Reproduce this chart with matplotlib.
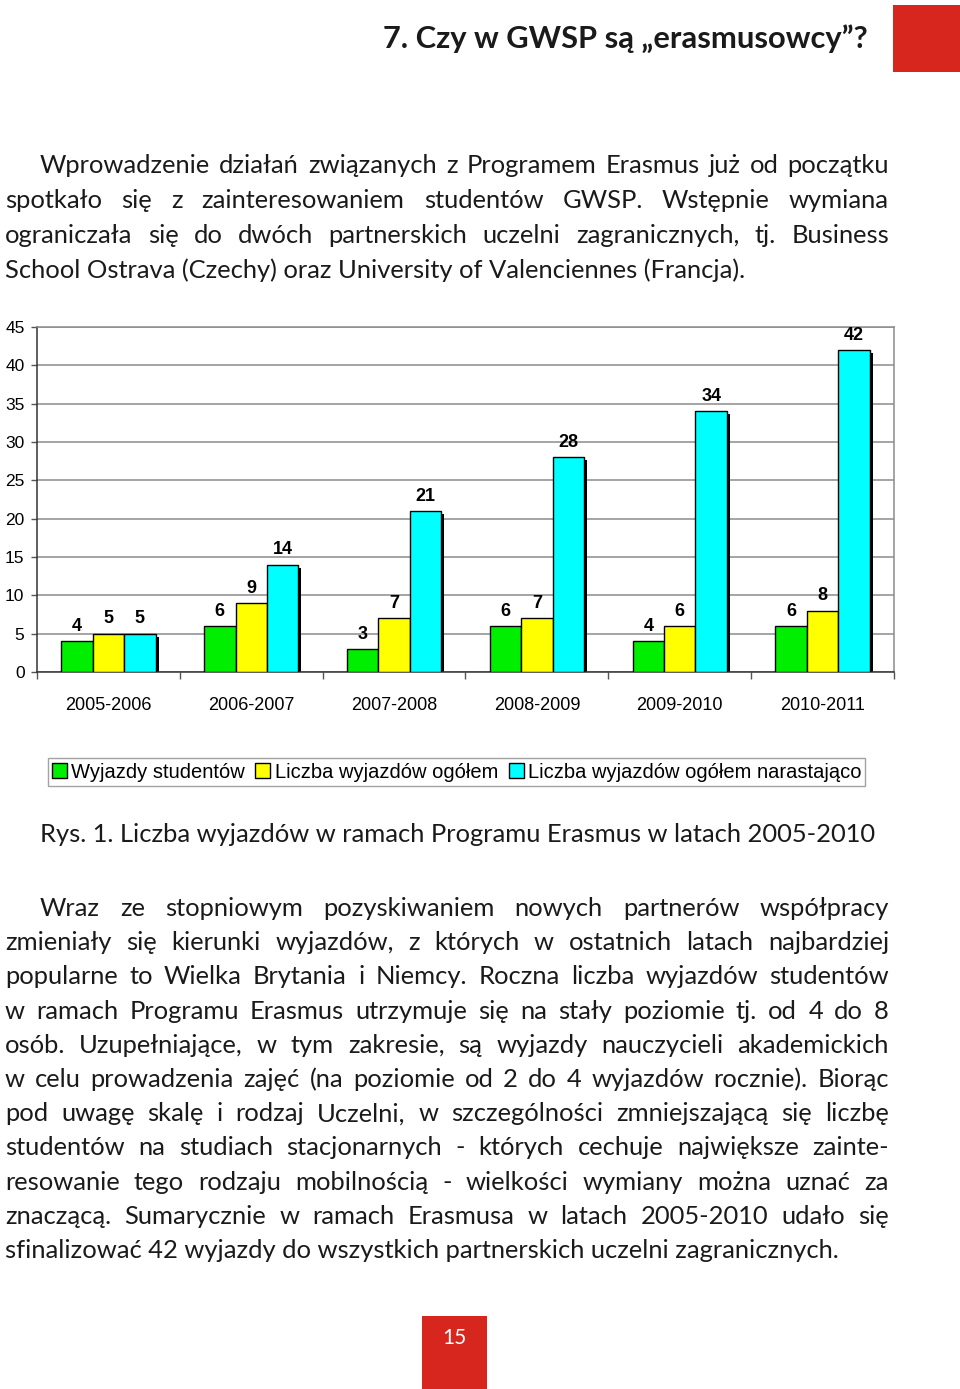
import matplotlib
matplotlib.use("Agg")
import matplotlib.pyplot as plt
from matplotlib.patches import Patch, Rectangle
import matplotlib.transforms as mtransforms
import numpy as np

# ---------------- data ----------------
categories = ["2005-2006", "2006-2007", "2007-2008", "2008-2009", "2009-2010", "2010-2011"]
wyjazdy_studentow = [4, 6, 3, 6, 4, 6]
liczba_wyjazdow = [5, 9, 7, 7, 6, 8]
liczba_narastajaco = [5, 14, 21, 28, 34, 42]
series_names = ["Wyjazdy studentów", "Liczba wyjazdów ogółem", "Liczba wyjazdów ogółem narastająco"]
y_ticks = [0, 5, 10, 15, 20, 25, 30, 35, 40, 45]

title = "7. Czy w GWSP są „erasmusowcy”?"
para1 = [
    "Wprowadzenie działań związanych z Programem Erasmus już od początku",
    "spotkało się z zainteresowaniem studentów GWSP. Wstępnie wymiana",
    "ograniczała się do dwóch partnerskich uczelni zagranicznych, tj. Business",
    "School Ostrava (Czechy) oraz University of Valenciennes (Francja).",
]
caption = "Rys. 1. Liczba wyjazdów w ramach Programu Erasmus w latach 2005-2010"
para2 = [
    "Wraz ze stopniowym pozyskiwaniem nowych partnerów współpracy",
    "zmieniały się kierunki wyjazdów, z których w ostatnich latach najbardziej",
    "popularne to Wielka Brytania i Niemcy. Roczna liczba wyjazdów studentów",
    "w ramach Programu Erasmus utrzymuje się na stały poziomie tj. od 4 do 8",
    "osób. Uzupełniające, w tym zakresie, są wyjazdy nauczycieli akademickich",
    "w celu prowadzenia zajęć (na poziomie od 2 do 4 wyjazdów rocznie). Biorąc",
    "pod uwagę skalę i rodzaj Uczelni, w szczególności zmniejszającą się liczbę",
    "studentów na studiach stacjonarnych - których cechuje największe zainte-",
    "resowanie tego rodzaju mobilnością - wielkości wymiany można uznać za",
    "znaczącą. Sumarycznie w ramach Erasmusa w latach 2005-2010 udało się",
    "sfinalizować 42 wyjazdy do wszystkich partnerskich uczelni zagranicznych.",
]
page_number = "15"

# ---------------- figure ----------------
W, H = 960, 1389
fig = plt.figure(figsize=(9.6, 13.89), dpi=100)
renderer = fig.canvas.get_renderer()

def fx(x):
    return x / W

def fy(y):
    return 1 - y / H

BODY = ["Lato", "DejaVu Sans"]
TXT = "#1a1a1a"
RED = "#d6261d"
CHART = ["Liberation Sans", "DejaVu Sans"]

def measure(s, size, weight="normal"):
    t = fig.text(0, 0, s, fontsize=size, family=BODY, weight=weight)
    w = t.get_window_extent(renderer).width
    t.remove()
    return w

def place_line(line, x0, x1, base, size, justify):
    if not justify:
        fig.text(fx(x0), fy(base), line, fontsize=size, family=BODY, color=TXT,
                 ha="left", va="baseline")
        return
    words = line.split(" ")
    widths = [measure(w, size) for w in words]
    gap = (x1 - x0 - sum(widths)) / max(len(words) - 1, 1)
    x = x0
    for w, wd in zip(words, widths):
        fig.text(fx(x), fy(base), w, fontsize=size, family=BODY, color=TXT,
                 ha="left", va="baseline")
        x += wd + gap

jobs = []
for i, line in enumerate(para1):
    x0 = 40 if i == 0 else 5
    jobs.append((line, x0, 889, 173 + 35.0 * i, i < len(para1) - 1))
jobs.append((caption, 40, 873, 842, False))
for i, line in enumerate(para2):
    x0 = 40 if i == 0 else 5
    jobs.append((line, x0, 889, 916 + 34.2 * i, i < len(para2) - 1))

def fits(size):
    for line, x0, x1, _, just in jobs:
        if not just:
            continue
        words = line.split(" ")
        tot = sum(measure(w, size) for w in words) + 4.5 * (len(words) - 1)
        if tot > x1 - x0:
            return False
    return True

body_size = 18.35
while body_size > 12 and not fits(body_size):
    body_size -= 0.1

for line, x0, x1, base, just in jobs:
    place_line(line, x0, x1, base, body_size, just)

# title
tsize = 20.0
tsize = tsize * 485 / measure(title, tsize, "bold")
fig.text(fx(868), fy(48), title, fontsize=tsize, family=BODY, weight="bold",
         color=TXT, ha="right", va="baseline")

# red decorations
fig.patches.append(Rectangle((fx(893), fy(72)), 67 / W, 67 / H,
                             transform=fig.transFigure, facecolor=RED, edgecolor="none"))
fig.patches.append(Rectangle((fx(422), fy(1389)), 65 / W, 73 / H,
                             transform=fig.transFigure, facecolor=RED, edgecolor="none"))
fig.text(fx(454.5), fy(1338), page_number, fontsize=15, family=BODY, color="white",
         ha="center", va="center")

# ---------------- chart ----------------
ax = fig.add_axes([fx(37), fy(672), (894 - 37) / W, (672 - 327) / H])
x = np.arange(len(categories))
bw = 0.22
colors = ["#00ee00", "#ffff00", "#00ffff"]
series = [wyjazdy_studentow, liczba_wyjazdow, liczba_narastajaco]
shadow = mtransforms.offset_copy(ax.transData, fig=fig, x=3, y=-3, units="dots")

for k, (vals, col) in enumerate(zip(series, colors)):
    pos = x + (k - 1) * bw
    ax.bar(pos, vals, width=bw, color="black", edgecolor="black", linewidth=0,
           transform=shadow, zorder=2)
    bars = ax.bar(pos, vals, width=bw, color=col, edgecolor="black", linewidth=1.0, zorder=3)
    for b, v in zip(bars, vals):
        ax.annotate(str(v), (b.get_x() + b.get_width() / 2, v), xytext=(0, 7.5),
                    textcoords="offset points", ha="center", va="baseline",
                    fontsize=13, fontweight="bold", family=CHART, color="black")

ax.set_xlim(-0.5, len(categories) - 0.5)
ax.set_ylim(0, 45)
ax.set_yticks(y_ticks)
ax.set_yticklabels([str(t) for t in y_ticks], family=CHART, fontsize=12.5)
ax.set_xticks(x)
ax.set_xticklabels(categories, family=CHART, fontsize=13)
ax.set_xticks(np.arange(len(categories) + 1) - 0.5, minor=True)
ax.tick_params(axis="x", which="major", length=0, pad=18)
ax.tick_params(axis="x", which="minor", length=5, width=1, direction="out", color="#555555")
ax.tick_params(axis="y", length=4, width=1, direction="out", pad=5, color="#555555")
ax.yaxis.grid(True, color="#8c8c8c", linewidth=1.1, zorder=0)
ax.set_axisbelow(True)
for s in ["top", "right"]:
    ax.spines[s].set_color("#8c8c8c")
    ax.spines[s].set_linewidth(1.1)
for s in ["left", "bottom"]:
    ax.spines[s].set_color("#333333")
    ax.spines[s].set_linewidth(1.1)

handles = [Patch(facecolor=c, edgecolor="black", linewidth=1.0) for c in colors]
leg = fig.legend(handles, series_names, loc="center", bbox_to_anchor=(fx(456.5), fy(772)),
                 ncol=3, prop={"family": CHART, "size": 14.5}, frameon=True, fancybox=False,
                 edgecolor="#8c8c8c", handlelength=0.75, handleheight=0.75,
                 handletextpad=0.2, columnspacing=0.53, borderpad=0.2, borderaxespad=0)
leg.get_frame().set_linewidth(1.0)

fig.savefig("out.png", dpi=100)
